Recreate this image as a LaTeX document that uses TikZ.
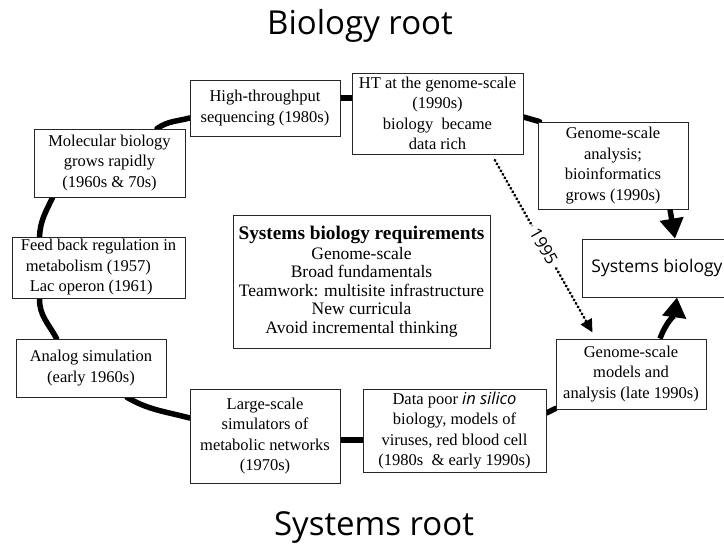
\documentclass[tikz,border=0pt]{standalone}
\usepackage{fontspec}
\setmainfont{Liberation Serif}
\newfontfamily\titlefont{Open Sans}
\usetikzlibrary{arrows.meta}
\pgfdeclarelayer{bg}
\pgfsetlayers{bg,main}
\begin{document}
\begin{tikzpicture}[x=1pt,y=1pt,
  box/.style={draw=black!85, line width=0.8pt, fill=white, inner sep=0pt, align=center,
    font=\fontsize{16.5}{20.5}\selectfont},
  wh/.style 2 args={minimum width=#1pt, minimum height=#2pt},
  loopline/.style={line width=5.5pt, line cap=round},
  bigarrow/.style={line width=5.5pt, -{Triangle[length=20pt,width=23pt]}},
  dotarrow/.style={line width=3.2pt, line cap=round, dash pattern=on 0.01pt off 4pt,
    -{Triangle[length=13pt,width=12pt]}},
  titletext/.style={font=\titlefont\fontsize{33}{33}\selectfont, anchor=base, inner sep=0pt}
]
\useasboundingbox (0,0) rectangle (724,547);
\clip (0,0) rectangle (724,547);

% titles
\node[titletext] (t1) at (360,512) {Biology root};
\node[titletext] (t2) at (374,12) {Systems root};

% boxes
\node[box, wh={150}{56}] (hts) at (265,439) {High-throughput\\sequencing (1980s)};
\node[box, wh={171}{81}] (ht) at (437.5,433.5) {HT at the genome-scale\\(1990s)\\biology\ \ became\\data rich};
\node[box, wh={150}{87}] (gsa) at (613,381.5) {Genome-scale\\analysis;\\bioinformatics\\grows (1990s)};
\node[box, wh={150}{58}, font=\titlefont\fontsize{17.5}{20}\selectfont] (sb) at (657,279) {Systems biology};
\node[box, wh={151}{68}] (mol) at (109.5,384) {Molecular biology\\grows rapidly\\(1960s \& 70s)};
\node[box, wh={173}{61}, align=left] (fb) at (98.5,279.5) {Feed back regulation in\\\hspace*{5pt}metabolism (1957)\\\hspace*{9pt}Lac operon (1961)};
\node[box, wh={150}{58}] (an) at (91,179) {Analog simulation\\(early 1960s)};
\node[box, wh={150}{94}] (ls) at (265,111) {Large-scale\\simulators of\\metabolic networks\\(1970s)};
\node[box, wh={183}{83}] (dp) at (454.5,116.5) {Data poor {\titlefont\itshape in silico}\\biology, models of\\viruses, red blood cell\\(1980s\ \ \& early 1990s)};
\node[box, wh={150}{70}] (gsm) at (631,173) {Genome-scale\\models and\\analysis (late 1990s)};
\node[box, wh={257}{133}, font=\fontsize{17.5}{18.5}\selectfont] (req) at (361.5,265.5)
  {{\fontsize{19.3}{20}\selectfont\bfseries Systems biology requirements}\\[1pt]Genome-scale\\Broad fundamentals\\Teamwork: multisite infrastructure\\New curricula\\Avoid incremental thinking};

% loop connectors
\begin{pgfonlayer}{bg}
\draw[loopline] ([xshift=47.5pt]mol.north) to[out=35,in=195] ([yshift=-10pt]hts.west);
\draw[loopline] ([yshift=10pt]hts.east) coordinate (p1) -- (p1 -| ht.west);
\draw[loopline] ([yshift=-3.5pt]ht.east) -- ([xshift=2pt]gsa.north west);
\draw[loopline] ([xshift=19pt]mol.south west) to[out=245,in=88] ([xshift=28pt]fb.north west);
\draw[loopline] ([xshift=28pt]fb.south west) to[out=268,in=118] ([xshift=41pt]an.north west);
\draw[loopline] ([xshift=36pt]an.south) to[out=-30,in=165] ([yshift=18pt]ls.west);
\draw[loopline] ([yshift=-4pt]ls.east) coordinate (p2) -- (p2 -| dp.west);
\draw[loopline] ([yshift=17.5pt]dp.east) -- ([yshift=1pt]gsm.south west);
\end{pgfonlayer}

% arrows into Systems biology
\draw[bigarrow] ([xshift=57pt]gsa.south) -- ([xshift=18pt]sb.north);
\draw[bigarrow] ([xshift=29pt]gsm.north) to[out=70,in=-98] ([xshift=20pt]sb.south);

% dotted 1995 arrow
\draw[dotarrow] ([xshift=57.5pt,yshift=-6pt]ht.south) --
  node[midway, sloped, fill=white, inner xsep=4pt, inner ysep=1pt, font=\titlefont\fontsize{17}{17}\selectfont] (y1995) {1995}
  ([xshift=37pt,yshift=6pt]gsm.north west);
\end{tikzpicture}
\end{document}
